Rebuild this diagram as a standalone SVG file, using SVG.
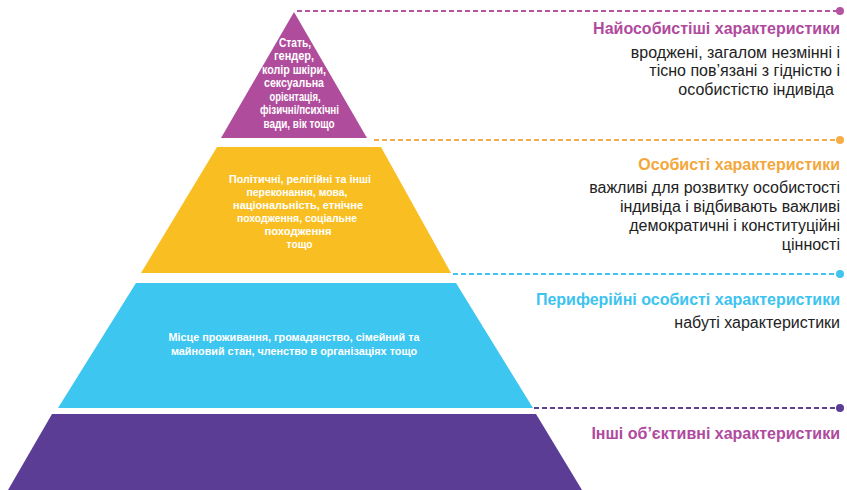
<svg xmlns="http://www.w3.org/2000/svg" width="847" height="490" viewBox="0 0 847 490">
<style>
.in{font-family:"Liberation Sans Narrow","Arial Narrow","Liberation Sans",Arial,sans-serif;font-weight:bold;fill:#fff;text-anchor:middle;}
.t{font-family:"Liberation Sans",Arial,sans-serif;font-weight:bold;font-size:16px;text-anchor:end;}
.b{font-family:"Liberation Sans",Arial,sans-serif;font-size:16px;fill:#222;text-anchor:end;}
.dl{fill:none;stroke-width:2;stroke-dasharray:5 3;}
</style>
<rect width="847" height="490" fill="#fff"/>
<g id="connectors">
  <line class="dl" x1="297" y1="11" x2="838" y2="11" stroke="#B455A3"/>
  <circle cx="840" cy="11" r="4" fill="#B455A3"/>
  <line class="dl" x1="374" y1="140" x2="838" y2="140" stroke="#F5AE45"/>
  <circle cx="840" cy="140" r="4" fill="#F5AE45"/>
  <line class="dl" x1="453" y1="274" x2="838" y2="274" stroke="#41C4EE"/>
  <circle cx="840" cy="274" r="4" fill="#41C4EE"/>
  <line class="dl" x1="534" y1="408" x2="838" y2="408" stroke="#5B3D95"/>
  <circle cx="840" cy="408" r="4" fill="#5B3D95"/>
</g>
<g id="tier1">
  <polygon points="294,12 221,138 367,138" fill="#AF4D9C"/>
  <g class="in" font-size="12">
    <text x="295" y="47" textLength="32" lengthAdjust="spacingAndGlyphs">Стать,</text>
    <text x="294" y="60" textLength="40" lengthAdjust="spacingAndGlyphs">гендер,</text>
    <text x="294" y="73.5" textLength="64" lengthAdjust="spacingAndGlyphs">колір шкіри,</text>
    <text x="294" y="87" textLength="60" lengthAdjust="spacingAndGlyphs">сексуальна</text>
    <text x="295" y="100.5" textLength="51" lengthAdjust="spacingAndGlyphs">орієнтація,</text>
    <text x="299.5" y="114" textLength="79" lengthAdjust="spacingAndGlyphs">фізичні/психічні</text>
    <text x="299" y="127.5" textLength="71" lengthAdjust="spacingAndGlyphs">вади, вік тощо</text>
  </g>
</g>
<g id="tier2">
  <polygon points="217,147 381,147 451,273 141,273" fill="#F9BF22"/>
  <g class="in" font-size="11.5">
    <text x="300" y="183" textLength="142" lengthAdjust="spacingAndGlyphs">Політичні, релігійні та інші</text>
    <text x="297" y="196" textLength="101" lengthAdjust="spacingAndGlyphs">переконання, мова,</text>
    <text x="298" y="209" textLength="130" lengthAdjust="spacingAndGlyphs">національність, етнічне</text>
    <text x="297" y="222" textLength="120" lengthAdjust="spacingAndGlyphs">походження, соціальне</text>
    <text x="298" y="235" textLength="67" lengthAdjust="spacingAndGlyphs">походження</text>
    <text x="299.5" y="247.5" textLength="26" lengthAdjust="spacingAndGlyphs">тощо</text>
  </g>
</g>
<g id="tier3">
  <polygon points="136,283 456,283 533,408 58,408" fill="#3CC6F0"/>
  <g class="in" font-size="11.5">
    <text x="294" y="340.5" textLength="251" lengthAdjust="spacingAndGlyphs">Місце проживання, громадянство, сімейний та</text>
    <text x="294" y="354.5" textLength="246" lengthAdjust="spacingAndGlyphs">майновий стан, членство в організаціях тощо</text>
  </g>
</g>
<g id="tier4">
  <polygon points="52,414 536,414 582,490 8,490" fill="#5B3D95"/>
</g>
<g id="label1">
  <text class="t" x="840" y="34" fill="#B04A9E">Найособистіші характеристики</text>
  <text class="b" x="840" y="57.5">вроджені, загалом незмінні і</text>
  <text class="b" x="840" y="76">тісно пов’язані з гідністю і</text>
  <text class="b" x="834" y="94.5">особистістю індивіда</text>
</g>
<g id="label2">
  <text class="t" x="840" y="169.5" fill="#F3A73B">Особисті характеристики</text>
  <text class="b" x="840" y="192.5">важливі для розвитку особистості</text>
  <text class="b" x="840" y="211.5">індивіда і відбивають важливі</text>
  <text class="b" x="840" y="230.5">демократичні і конституційні</text>
  <text class="b" x="840" y="249.5">цінності</text>
</g>
<g id="label3">
  <text class="t" x="840" y="304.5" fill="#3DC3EF">Периферійні особисті характеристики</text>
  <text class="b" x="840" y="327.5">набуті характеристики</text>
</g>
<g id="label4">
  <text class="t" x="840" y="438.5" fill="#B04A9E">Інші об’єктивні характеристики</text>
</g>
</svg>
